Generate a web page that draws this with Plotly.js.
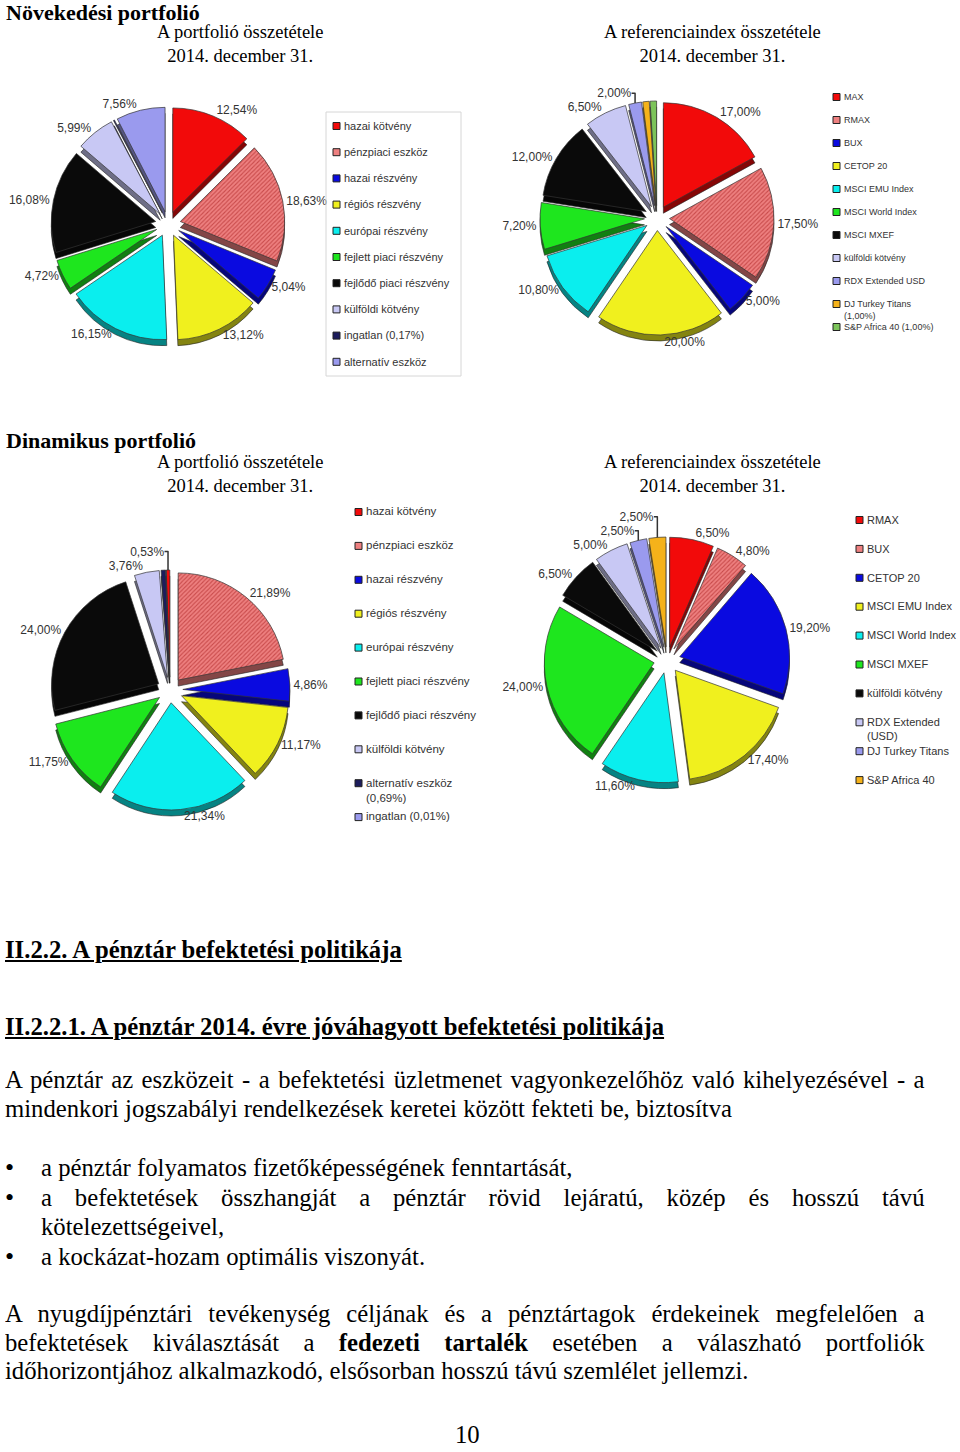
<!DOCTYPE html>
<html>
<head>
<meta charset="utf-8">
<script src="https://cdn.plot.ly/plotly-3.0.1.min.js"></script>
<style>
  body { margin: 0; background: #fff; }
  #page { position: relative; width: 960px; height: 1452px; overflow: hidden;
          font-family: "Liberation Serif", "Times New Roman", serif; color: #000; }
  #chart { position: absolute; left: 0; top: 0; width: 960px; height: 880px; }
  .ln { position: absolute; left: 5px; width: 968px; font-size: 26px; line-height: 28px; white-space: nowrap;
        transform: scaleX(0.95); transform-origin: 0 0; }
  .j { text-align: justify; text-align-last: justify; white-space: normal; }
  .h { font-weight: bold; text-decoration: underline; }
  .b { left: 41px; width: 930px; }
  .dot { position: absolute; left: 5px; font-size: 26px; line-height: 28px; }
</style>
</head>
<body>
<div id="page">
  <div id="chart"></div>

  <div class="ln h" style="top:936px">II.2.2. A pénztár befektetési politikája</div>
  <div class="ln h" style="top:1013px">II.2.2.1. A pénztár 2014. évre jóváhagyott befektetési politikája</div>

  <div class="ln j" style="top:1066px">A pénztár az eszközeit - a befektetési üzletmenet vagyonkezelőhöz való kihelyezésével - a</div>
  <div class="ln" style="top:1095px">mindenkori jogszabályi rendelkezések keretei között fekteti be, biztosítva</div>

  <div class="dot" style="top:1154px">•</div>
  <div class="ln b" style="top:1154px">a pénztár folyamatos fizetőképességének fenntartását,</div>
  <div class="dot" style="top:1184px">•</div>
  <div class="ln b j" style="top:1184px">a befektetések összhangját a pénztár rövid lejáratú, közép és hosszú távú</div>
  <div class="ln b" style="top:1213px">kötelezettségeivel,</div>
  <div class="dot" style="top:1243px">•</div>
  <div class="ln b" style="top:1243px">a kockázat-hozam optimális viszonyát.</div>

  <div class="ln j" style="top:1300px">A nyugdíjpénztári tevékenység céljának és a pénztártagok érdekeinek megfelelően a</div>
  <div class="ln j" style="top:1329px">befektetések kiválasztását a <b>fedezeti tartalék</b> esetében a válaszható portfoliók</div>
  <div class="ln" style="top:1357px">időhorizontjához alkalmazkodó, elsősorban hosszú távú szemlélet jellemzi.</div>

  <div class="ln" style="top:1424px; left:455px; width:60px; line-height:22px">10</div>
</div>

<script>
// ---- data ----
const growthLabels = ['hazai kötvény', 'pénzpiaci eszköz', 'hazai részvény', 'régiós részvény', 'európai részvény',
  'fejlett piaci részvény', 'fejlődő piaci részvény', 'külföldi kötvény', 'ingatlan (0,17%)', 'alternatív eszköz'];
const growthValues = [12.54, 18.63, 5.04, 13.12, 16.15, 4.72, 16.08, 5.99, 0.17, 7.56];
const growthShown = [1, 1, 1, 1, 1, 1, 1, 1, 0, 1];

const growthRefLabels = ['MAX', 'RMAX', 'BUX', 'CETOP 20', 'MSCI EMU Index', 'MSCI World Index', 'MSCI MXEF',
  'külföldi kötvény', 'RDX Extended USD', 'DJ Turkey Titans<br>(1,00%)', 'S&P Africa 40 (1,00%)'];
const growthRefValues = [17.00, 17.50, 5.00, 20.00, 10.80, 7.20, 12.00, 6.50, 2.00, 1.00, 1.00];
const growthRefShown = [1, 1, 1, 1, 1, 1, 1, 1, 1, 0, 0];

const dynLabels = ['hazai kötvény', 'pénzpiaci eszköz', 'hazai részvény', 'régiós részvény', 'európai részvény',
  'fejlett piaci részvény', 'fejlődő piaci részvény', 'külföldi kötvény', 'alternatív eszköz<br>(0,69%)', 'ingatlan (0,01%)'];
const dynValues = [0.53, 21.89, 4.86, 11.17, 21.34, 11.75, 24.00, 3.76, 0.69, 0.01];
const dynShown = [1, 1, 1, 1, 1, 1, 1, 1, 0, 0];

const dynRefLabels = ['RMAX', 'BUX', 'CETOP 20', 'MSCI EMU Index', 'MSCI World Index', 'MSCI MXEF',
  'külföldi kötvény', 'RDX Extended<br>(USD)', 'DJ Turkey Titans', 'S&P Africa 40'];
const dynRefValues = [6.50, 4.80, 19.20, 17.40, 11.60, 24.00, 6.50, 5.00, 2.50, 2.50];
const dynRefShown = [1, 1, 1, 1, 1, 1, 1, 1, 1, 1];

// slice colours (by position)
const portColors = ['#f20a0a', '#ee8080', '#0a0ae0', '#f0f01e', '#0aeeee', '#1ee61e', '#0a0a0a', '#c8c8f4', '#1c1c5c', '#9a9aee'];
const refColors = ['#f20a0a', '#ee8080', '#0a0ae0', '#f0f01e', '#0aeeee', '#1ee61e', '#0a0a0a', '#c8c8f4', '#9a9aee', '#f5b21a', '#7cc45a'];

// ---- helpers ----
const W = 960, H = 880;
const X = p => p / W;
const Y = p => 1 - p / H;
const pct = v => v.toFixed(2).replace('.', ',') + '%';

function darken(hex, f) {
  const n = parseInt(hex.slice(1), 16);
  const r = Math.round(((n >> 16) & 255) * f), g = Math.round(((n >> 8) & 255) * f), b = Math.round((n & 255) * f);
  return 'rgb(' + r + ',' + g + ',' + b + ')';
}

const traces = [];
function addPie(values, shown, colors, cx, cy, half, rotation) {
  const depth = 6;
  const common = {
    type: 'pie', values: values, sort: false, direction: 'clockwise', rotation: rotation,
    pull: values.map(() => 0.12), hoverinfo: 'skip', showlegend: false
  };
  // darker copy shifted down: the side of the 3D disc
  traces.push(Object.assign({}, common, {
    domain: { x: [X(cx - half), X(cx + half)], y: [Y(cy + half + depth), Y(cy - half + depth)] },
    marker: { colors: colors.map(c => darken(c, 0.55)), line: { color: '#222', width: 0.6 } },
    textinfo: 'none'
  }));
  traces.push(Object.assign({}, common, {
    domain: { x: [X(cx - half), X(cx + half)], y: [Y(cy + half), Y(cy - half)] },
    marker: {
      colors: colors,
      line: { color: '#333', width: 0.7 },
      pattern: {
        shape: colors.map((c, i) => i === 1 ? '/' : ''),
        bgcolor: colors, fgcolor: '#c84a4a', size: 3, solidity: 0.35
      }
    },
    text: values.map((v, i) => shown[i] ? pct(v) : ''),
    textinfo: 'text', textposition: 'outside',
    textfont: { family: 'Liberation Sans, Arial, sans-serif', size: 12, color: '#333' }
  }));
}

addPie(growthValues, growthShown, portColors, 168, 224, 117, 0);
addPie(growthRefValues, growthRefShown, refColors, 657, 218, 117, 0);
addPie(dynValues, dynShown, portColors, 170, 690, 120, -1.9);
addPie(dynRefValues, dynRefShown, refColors.slice(0, 10), 667, 660, 123, 0);

const shapes = [];
const annotations = [];
function addLegend(labels, colors, sx, y0, step, fs) {
  labels.forEach((lab, i) => {
    const yc = y0 + i * step;
    shapes.push({ type: 'rect', xref: 'paper', yref: 'paper',
      x0: X(sx), x1: X(sx + 7), y0: Y(yc + 3.5), y1: Y(yc - 3.5),
      fillcolor: colors[i], line: { color: '#222', width: 1 } });
    annotations.push({ xref: 'paper', yref: 'paper', x: X(sx + 9), y: Y(yc - fs * 0.75),
      xanchor: 'left', yanchor: 'top', align: 'left', showarrow: false, text: lab,
      font: { family: 'Liberation Sans, Arial, sans-serif', size: fs, color: '#333' } });
  });
}

shapes.push({ type: 'rect', xref: 'paper', yref: 'paper', x0: X(326), x1: X(461), y0: Y(376), y1: Y(112),
  line: { color: '#d6d6d6', width: 1 } });
addLegend(growthLabels, portColors, 333, 126, 26.2, 11);
addLegend(growthRefLabels, refColors, 833, 97, 23, 9);
addLegend(dynLabels, portColors, 355, 512, 33.9, 11.5);
addLegend(dynRefLabels, refColors, 856, 520, 28.9, 11);

const serif = 'Liberation Serif, Times New Roman, serif';
function title(text, x, y, anchor, size, bold) {
  annotations.push({ xref: 'paper', yref: 'paper', x: X(x), y: Y(y), xanchor: anchor, yanchor: 'middle',
    showarrow: false, align: 'center', text: bold ? '<b>' + text + '</b>' : text,
    font: { family: serif, size: size, color: '#000' } });
}
title('Növekedési portfolió', 4, 12, 'left', 22, true);
title('A portfolió összetétele<br>2014. december 31.', 240, 44, 'center', 18.5, false);
title('A referenciaindex összetétele<br>2014. december 31.', 712, 44, 'center', 18.5, false);
title('Dinamikus portfolió', 4, 440, 'left', 22, true);
title('A portfolió összetétele<br>2014. december 31.', 240, 474, 'center', 18.5, false);
title('A referenciaindex összetétele<br>2014. december 31.', 712, 474, 'center', 18.5, false);

const layout = {
  width: W, height: H,
  margin: { l: 0, r: 0, t: 0, b: 0 },
  paper_bgcolor: '#fff',
  showlegend: false,
  shapes: shapes,
  annotations: annotations
};

Plotly.newPlot('chart', traces, layout, { staticPlot: true });
</script>
</body>
</html>
